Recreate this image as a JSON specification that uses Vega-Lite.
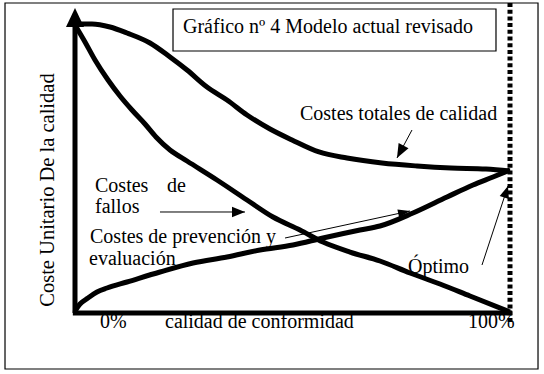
{
  "$schema": "https://vega.github.io/schema/vega-lite/v6.json",
  "width": 544,
  "height": 374,
  "padding": 0,
  "autosize": {"type": "none"},
  "background": "white",
  "config": {"view": {"stroke": null}},
  "datasets": {
    "curves": [
      {"series": "totales", "x": 0, "y": 99.66},
      {"series": "totales", "x": 3.91, "y": 99.66},
      {"series": "totales", "x": 8.05, "y": 98.62},
      {"series": "totales", "x": 11.95, "y": 96.55},
      {"series": "totales", "x": 17.24, "y": 93.1},
      {"series": "totales", "x": 21.84, "y": 88.28},
      {"series": "totales", "x": 25.75, "y": 83.79},
      {"series": "totales", "x": 30.34, "y": 77.93},
      {"series": "totales", "x": 34.94, "y": 73.45},
      {"series": "totales", "x": 39.54, "y": 68.28},
      {"series": "totales", "x": 44.83, "y": 63.45},
      {"series": "totales", "x": 49.89, "y": 59.66},
      {"series": "totales", "x": 56.09, "y": 55.52},
      {"series": "totales", "x": 62.53, "y": 53.45},
      {"series": "totales", "x": 70.57, "y": 51.72},
      {"series": "totales", "x": 78.62, "y": 50.69},
      {"series": "totales", "x": 86.44, "y": 50.0},
      {"series": "totales", "x": 94.48, "y": 49.66},
      {"series": "totales", "x": 100, "y": 48.97},
      {"series": "fallos", "x": 0, "y": 99.31},
      {"series": "fallos", "x": 2.3, "y": 93.45},
      {"series": "fallos", "x": 4.6, "y": 87.24},
      {"series": "fallos", "x": 7.59, "y": 80.34},
      {"series": "fallos", "x": 10.34, "y": 74.83},
      {"series": "fallos", "x": 13.1, "y": 70.0},
      {"series": "fallos", "x": 16.09, "y": 65.17},
      {"series": "fallos", "x": 18.62, "y": 60.69},
      {"series": "fallos", "x": 21.84, "y": 56.21},
      {"series": "fallos", "x": 25.75, "y": 52.41},
      {"series": "fallos", "x": 32.64, "y": 45.86},
      {"series": "fallos", "x": 39.54, "y": 38.97},
      {"series": "fallos", "x": 45.52, "y": 33.1},
      {"series": "fallos", "x": 51.72, "y": 28.62},
      {"series": "fallos", "x": 57.01, "y": 24.48},
      {"series": "fallos", "x": 63.22, "y": 21.03},
      {"series": "fallos", "x": 70.11, "y": 17.93},
      {"series": "fallos", "x": 77.01, "y": 13.79},
      {"series": "fallos", "x": 83.91, "y": 10.0},
      {"series": "fallos", "x": 90.8, "y": 5.86},
      {"series": "fallos", "x": 100, "y": 0.34},
      {"series": "prevencion", "x": 0, "y": 0.69},
      {"series": "prevencion", "x": 1.15, "y": 3.1},
      {"series": "prevencion", "x": 2.99, "y": 5.17},
      {"series": "prevencion", "x": 5.06, "y": 7.24},
      {"series": "prevencion", "x": 7.36, "y": 8.62},
      {"series": "prevencion", "x": 11.95, "y": 10.69},
      {"series": "prevencion", "x": 19.54, "y": 14.14},
      {"series": "prevencion", "x": 27.13, "y": 17.24},
      {"series": "prevencion", "x": 34.94, "y": 19.31},
      {"series": "prevencion", "x": 42.53, "y": 21.72},
      {"series": "prevencion", "x": 50.11, "y": 23.45},
      {"series": "prevencion", "x": 57.01, "y": 25.86},
      {"series": "prevencion", "x": 65.52, "y": 28.62},
      {"series": "prevencion", "x": 70.11, "y": 30.0},
      {"series": "prevencion", "x": 77.7, "y": 34.48},
      {"series": "prevencion", "x": 85.52, "y": 40.0},
      {"series": "prevencion", "x": 91.49, "y": 44.14},
      {"series": "prevencion", "x": 96.09, "y": 46.9},
      {"series": "prevencion", "x": 100, "y": 49.31}
    ],
    "boxes": [
      {"part": "frame", "x": -16.09, "x2": 106.44, "y": -19.31, "y2": 106.9},
      {"part": "titlebox", "x": 22.53, "x2": 96.78, "y": 90.34, "y2": 104.83}
    ],
    "axes": [
      {"part": "yaxis", "x": 0, "x2": 0, "y": 0, "y2": 99.0},
      {"part": "xaxis", "x": -0.5, "x2": 100.5, "y": 0, "y2": 0}
    ],
    "optimum": [
      {"x": 100, "y": 106.9, "y2": -3.45}
    ],
    "arrows": [
      {"arrow": "fallos", "x": 19.54, "y": 34.83, "x2": 39.08, "y2": 34.83},
      {"arrow": "totales", "x": 77.47, "y": 63.1, "x2": 74.02, "y2": 53.45},
      {"arrow": "prevencion", "x": 48.28, "y": 25.86, "x2": 77.01, "y2": 35.17},
      {"arrow": "optimo", "x": 93.56, "y": 16.55, "x2": 99.54, "y2": 43.79}
    ],
    "heads": [
      {"arrow": "yaxis", "x": 0, "y": 105.17},
      {"arrow": "fallos", "x": 39.08, "y": 34.83},
      {"arrow": "totales", "x": 74.02, "y": 53.45},
      {"arrow": "prevencion", "x": 77.01, "y": 35.17},
      {"arrow": "optimo", "x": 99.54, "y": 43.79}
    ],
    "labels": [
      {"label": "Gráfico nº 4 Modelo actual revisado", "x": 24.83, "y": 96.55},
      {"label": "Costes totales de calidad", "x": 51.72, "y": 66.55},
      {"label": "Costes", "x": 4.6, "y": 41.72},
      {"label": "de", "x": 21.15, "y": 41.72},
      {"label": "fallos", "x": 4.6, "y": 34.48},
      {"label": "Costes de prevención y", "x": 3.45, "y": 24.14},
      {"label": "evaluación", "x": 3.22, "y": 16.55},
      {"label": "Óptimo", "x": 76.55, "y": 13.79},
      {"label": "0%", "x": 5.75, "y": -5.17},
      {"label": "calidad de conformidad", "x": 20.69, "y": -5.17},
      {"label": "100%", "x": 90.34, "y": -5.17}
    ],
    "ytitle": [
      {"label": "Coste Unitario De la calidad", "x": -4.83, "y": 42.4}
    ]
  },
  "encoding": {
    "x": {"field": "x", "type": "quantitative", "scale": {"domain": [-17.2414, 107.8161], "nice": false, "zero": false}, "axis": null},
    "y": {"field": "y", "type": "quantitative", "scale": {"domain": [-21.0345, 107.931], "nice": false, "zero": false}, "axis": null}
  },
  "layer": [
    {
      "data": {"name": "boxes"},
      "mark": {"type": "rect", "fill": null, "stroke": "black", "strokeWidth": 1.2},
      "encoding": {
        "x2": {"field": "x2"},
        "y2": {"field": "y2"}
      }
    },
    {
      "data": {"name": "optimum"},
      "mark": {"type": "rule", "color": "black", "strokeWidth": 5, "strokeDash": [4, 2.7]},
      "encoding": {"y2": {"field": "y2"}}
    },
    {
      "data": {"name": "axes"},
      "mark": {"type": "rule", "color": "black", "strokeWidth": 5},
      "encoding": {"x2": {"field": "x2"}, "y2": {"field": "y2"}}
    },
    {
      "data": {"name": "curves"},
      "mark": {"type": "line", "color": "black", "strokeWidth": 5, "interpolate": "monotone", "strokeJoin": "round"},
      "encoding": {"detail": {"field": "series"}}
    },
    {
      "data": {"name": "arrows"},
      "mark": {"type": "rule", "color": "black", "strokeWidth": 1},
      "encoding": {"x2": {"field": "x2"}, "y2": {"field": "y2"}}
    },
    {
      "data": {"name": "heads"},
      "transform": [{"filter": "datum.arrow == 'yaxis'"}],
      "mark": {"type": "point", "shape": "M0,0L-0.95,2L0.95,2Z", "filled": true, "color": "black", "opacity": 1, "size": 361, "angle": 0}
    },
    {
      "data": {"name": "heads"},
      "transform": [{"filter": "datum.arrow == 'fallos'"}],
      "mark": {"type": "point", "shape": "M0,0L-0.8,2L0.8,2Z", "filled": true, "color": "black", "opacity": 1, "size": 169, "angle": 90}
    },
    {
      "data": {"name": "heads"},
      "transform": [{"filter": "datum.arrow == 'totales'"}],
      "mark": {"type": "point", "shape": "M0,0L-0.8,2L0.8,2Z", "filled": true, "color": "black", "opacity": 1, "size": 196, "angle": 208}
    },
    {
      "data": {"name": "heads"},
      "transform": [{"filter": "datum.arrow == 'prevencion'"}],
      "mark": {"type": "point", "shape": "M0,0L-0.7,2L0.7,2Z", "filled": true, "color": "black", "opacity": 1, "size": 144, "angle": 78}
    },
    {
      "data": {"name": "heads"},
      "transform": [{"filter": "datum.arrow == 'optimo'"}],
      "mark": {"type": "point", "shape": "M0,0L-0.8,2L0.8,2Z", "filled": true, "color": "black", "opacity": 1, "size": 144, "angle": 18}
    },
    {
      "data": {"name": "labels"},
      "mark": {"type": "text", "font": "Liberation Serif", "fontSize": 20, "align": "left", "baseline": "alphabetic", "color": "black"},
      "encoding": {"text": {"field": "label"}}
    },
    {
      "data": {"name": "ytitle"},
      "mark": {"type": "text", "font": "Liberation Serif", "fontSize": 20.5, "align": "center", "baseline": "alphabetic", "angle": 270, "color": "black"},
      "encoding": {"text": {"field": "label"}}
    }
  ]
}
